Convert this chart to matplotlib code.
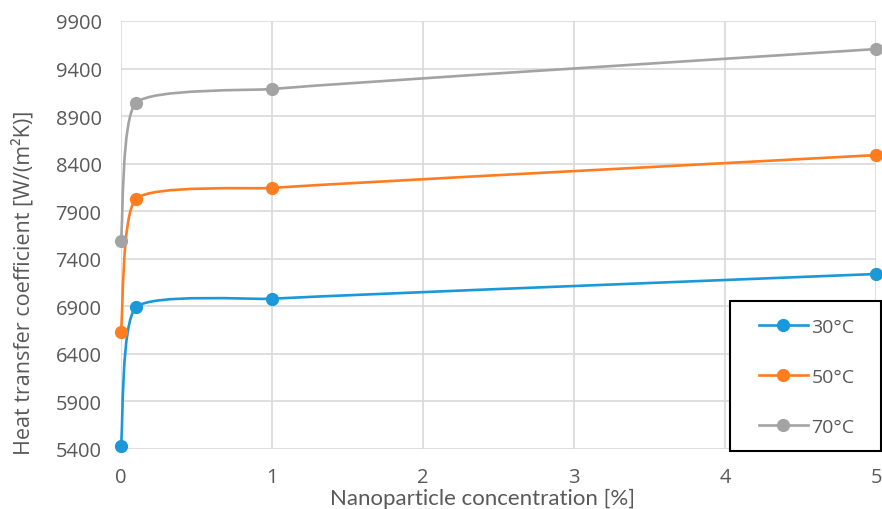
import numpy as np
import matplotlib
matplotlib.use("Agg")
import matplotlib.pyplot as plt
from matplotlib.path import Path
from matplotlib.patches import PathPatch, Rectangle
from matplotlib.lines import Line2D

concentration = [0, 0.1, 1, 5]
htc_30 = [5430, 6890, 6980, 7240]
htc_50 = [6635, 8030, 8145, 8490]
htc_70 = [7590, 9040, 9185, 9605]
series_labels = ["30°C", "50°C", "70°C"]
series_colors = ["#1b98d8", "#ff7c1f", "#a3a3a3"]
y_ticks = list(range(5400, 10000, 500))
x_ticks = [0, 1, 2, 3, 4, 5]

plt.rcParams["font.family"] = ["Open Sans", "DejaVu Sans"]
text_color = "#595959"


def smooth_path(ax, xs, ys, k=0.15):
    # smoothed line built in screen space (like excel), then back to data coords
    pts = ax.transData.transform(np.column_stack([xs, ys]))
    n = len(pts)
    seg = np.diff(pts, axis=0)
    seglen = np.hypot(seg[:, 0], seg[:, 1])
    unit = seg / seglen[:, None]
    tang = np.zeros_like(pts)
    tang[0] = unit[0]
    tang[-1] = unit[-1]
    for i in range(1, n - 1):
        t = unit[i - 1] + unit[i]
        tang[i] = t / np.hypot(*t)
    verts = [pts[0]]
    codes = [Path.MOVETO]
    for i in range(n - 1):
        L = k * seglen[i]
        verts += [pts[i] + tang[i] * L, pts[i + 1] - tang[i + 1] * L, pts[i + 1]]
        codes += [Path.CURVE4] * 3
    verts = ax.transData.inverted().transform(np.array(verts))
    return Path(verts, codes)


fig = plt.figure(figsize=(8.82, 5.10), dpi=100)
ax = fig.add_axes([121 / 882, 1 - 450 / 510, 755 / 882, 428 / 510])
ax.set_xlim(0, 5)
ax.set_ylim(5400, 9900)

for ys, lab, col in zip([htc_30, htc_50, htc_70], series_labels, series_colors):
    patch = PathPatch(smooth_path(ax, concentration, ys), facecolor="none",
                      edgecolor=col, lw=1.9, clip_on=False, zorder=3)
    ax.add_patch(patch)
    ax.plot(concentration, ys, "o", color=col, ms=8.5, clip_on=False, zorder=4)

ax.set_xlim(0, 5)
ax.set_ylim(5400, 9900)
ax.set_xticks(x_ticks)
ax.set_yticks(y_ticks)
ax.grid(True, color="#d9d9d9", lw=1.2)
ax.set_axisbelow(True)
for s in ax.spines.values():
    s.set_visible(False)
ax.tick_params(length=0, labelsize=14.5, colors=text_color)
ax.tick_params(axis="y", pad=14)
ax.tick_params(axis="x", pad=13)

fig.text(482 / 882, 1 - 499 / 510, "Nanoparticle concentration [%]", ha="center",
         va="center", fontsize=16, color=text_color, family=["Lato", "DejaVu Sans"])
fig.text(23 / 882, 1 - 283 / 510, "Heat transfer coefficient [W/(m²K)]", ha="center",
         va="center", rotation=90, fontsize=15.5, color=text_color)

# legend box
fig.patches.append(Rectangle((730 / 882, 1 - 452 / 510), 151 / 882, 150 / 510,
                             transform=fig.transFigure, facecolor="white",
                             edgecolor="black", lw=1.5, zorder=5))
handles = [Line2D([], [], color=c, lw=1.9, marker="o", ms=8.5) for c in series_colors]
leg = fig.legend(handles, series_labels, loc="center left",
                 bbox_to_anchor=(759 / 882, 1 - 378 / 510), bbox_transform=fig.transFigure,
                 fontsize=14, frameon=False, labelspacing=1.64, handlelength=2.5,
                 handletextpad=0.2, borderpad=0, borderaxespad=0, labelcolor=text_color)
leg.set_zorder(6)

fig.savefig("out.png", dpi=100)
